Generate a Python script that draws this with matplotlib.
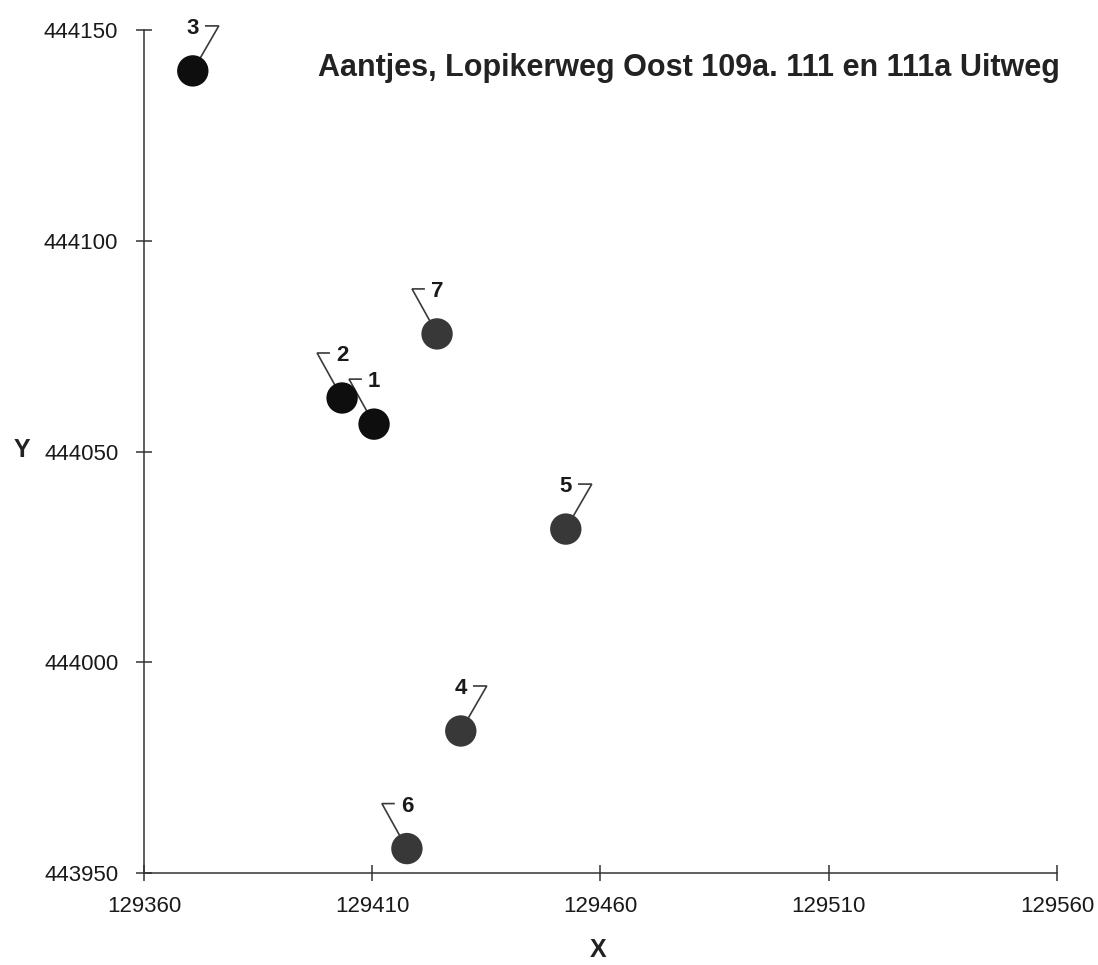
import matplotlib
matplotlib.use("Agg")
import matplotlib.pyplot as plt
from matplotlib import transforms

# ---- data ----
labels = ["1", "2", "3", "4", "5", "6", "7"]
x_vals = [129410.4, 129403.4, 129370.7, 129429.4, 129452.4, 129417.6, 129424.2]
y_vals = [444056.5, 444062.7, 444140.3, 443983.7, 444031.6, 443955.8, 444077.9]
point_colors = ["#0e0e0e", "#0e0e0e", "#0e0e0e", "#383838", "#383838", "#383838", "#383838"]
x_ticks = [129360, 129410, 129460, 129510, 129560]
y_ticks = [443950, 444000, 444050, 444100, 444150]
title = "Aantjes, Lopikerweg Oost 109a. 111 en 111a Uitweg"

# leader-flag side for each label ("right": label then flag on its right)
flag_side = {"1": "left", "2": "left", "3": "right", "4": "right",
             "5": "right", "6": "left", "7": "left"}

DPI = 100
fig = plt.figure(figsize=(10.98, 9.65), dpi=DPI)
ax = fig.add_axes([0.1311, 0.0953, 0.8316, 0.8736])
ax.set_xlim(x_ticks[0], x_ticks[-1])
ax.set_ylim(y_ticks[0], y_ticks[-1])

ax.scatter(x_vals, y_vals, s=510, c=point_colors, zorder=5, linewidths=0)


def px_trans(xv, yv):
    # offsets given in pixels relative to a data point
    return (transforms.Affine2D().scale(1.0 / DPI) + fig.dpi_scale_trans
            + transforms.ScaledTranslation(xv, yv, ax.transData))


for lab, xv, yv in zip(labels, x_vals, y_vals):
    tr = px_trans(xv, yv)
    if flag_side[lab] == "right":
        fx = [13, 26, 0]
    else:
        fx = [-13, -25, 0]
    fy = [45, 45, 0]
    ax.plot(fx, fy, transform=tr, color="#3a3a3a", lw=1.2, zorder=3,
            solid_joinstyle="miter", clip_on=False)
    ax.text(0, 37, lab, transform=tr,
            ha="center", va="baseline", fontsize=16, fontweight="bold",
            family="Liberation Sans", color="#1a1a1a", zorder=4)

ax.set_xticks(x_ticks)
ax.set_yticks(y_ticks)
ax.set_xticklabels([str(t) for t in x_ticks], family="Liberation Sans", fontsize=16, color="#1a1a1a")
ax.set_yticklabels([str(t) for t in y_ticks], family="Liberation Sans", fontsize=16, color="#1a1a1a")
ax.tick_params(direction="inout", length=11, width=1.1, color="#333333")
ax.tick_params(axis="x", pad=11)
ax.tick_params(axis="y", pad=13)
ax.spines["top"].set_visible(False)
ax.spines["right"].set_visible(False)
for s in ("left", "bottom"):
    ax.spines[s].set_color("#333333")
    ax.spines[s].set_linewidth(1.1)

ax.set_xlabel("X", family="Liberation Sans", fontsize=18, fontweight="bold", color="#222222")
ax.xaxis.set_label_coords((598 - 144) / 913, -(950 - 873) / 843)
ax.xaxis.label.set_va("center")
ax.set_ylabel("Y", family="Liberation Sans", fontsize=18, fontweight="bold", color="#222222",
              rotation=0, va="center", ha="center")
ax.yaxis.set_label_coords((22 - 144) / 913, (873 - 450) / 843)

ax.text(1.003, 0.955, title, transform=ax.transAxes, ha="right", va="center",
        family="Liberation Sans", fontsize=22, fontweight="bold", color="#222222")

fig.savefig("out.png", dpi=DPI, facecolor="white")
